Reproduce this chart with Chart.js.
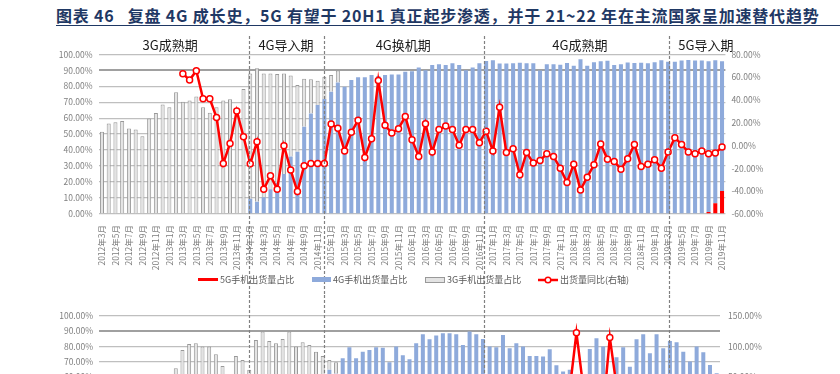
<!DOCTYPE html>
<html>
<head>
<meta charset="utf-8">
<script src="https://cdn.jsdelivr.net/npm/chart.js@4.4.1/dist/chart.umd.min.js"></script>
<style>
  html, body { margin: 0; padding: 0; background: #fff; }
  body { width: 840px; height: 374px; overflow: hidden; position: relative; font-family: 'Noto Sans CJK SC', 'Noto Sans', sans-serif; }
  #title { position: absolute; left: 56px; top: 3px; font-size: 16px; font-weight: bold; color: #1f3864; white-space: nowrap; letter-spacing: 0.8px; }
  #rule { position: absolute; left: 56px; top: 25px; width: 784px; border-top: 1.5px solid #1f3864; }
  canvas { position: absolute; left: 0; }
  #topChart { top: 30px; }
  #bottomChart { top: 295px; }
  .lg { position: absolute; top: 273px; font-size: 9px; color: #595959; white-space: nowrap; line-height: 14px; }
  .sw { display: inline-block; vertical-align: middle; margin-right: 2px; position: relative; top: -1px; }
</style>
</head>
<body>
<div id="title">图表 46&nbsp;&nbsp;&nbsp;复盘 4G 成长史，5G 有望于 20H1 真正起步渗透，并于 21~22 年在主流国家呈加速替代趋势</div>
<div id="rule"></div>
<canvas id="topChart" width="840" height="265"></canvas>
<canvas id="bottomChart" width="840" height="260"></canvas>
<div class="lg" style="left:198px"><span class="sw" style="width:20px;height:3px;background:#ff0000"></span>5G手机出货量占比</div>
<div class="lg" style="left:312px"><span class="sw" style="width:19px;height:5px;background:#8eaadb"></span>4G手机出货量占比</div>
<div class="lg" style="left:425px"><span class="sw" style="width:18px;height:4px;background:#e3e3e3;border:1px solid #999"></span>3G手机出货量占比</div>
<div class="lg" style="left:538px"><svg class="sw" width="20" height="8"><line x1="0" y1="4" x2="20" y2="4" stroke="#ff0000" stroke-width="2.5"/><circle cx="10" cy="4" r="2.8" fill="#fff" stroke="#ff0000" stroke-width="1.5"/></svg>出货量同比(右轴)</div>
<script>
// --- 类目：2012年3月 ~ 2019年11月 ---
const months = [];
for (let y = 2012, m = 3; y < 2019 || (y === 2019 && m <= 11);) {
    months.push(y + '年' + m + '月');
    m++;
    if (m > 12) { m = 1; y++; }
}

// --- 上图：中国手机出货结构（%）---
const share3G = [
    51.5, 56.7, 57.5, 58.2, 53.6, 52.9, 48.7, 59.8, 63.2, 68.6,
    66.9, 76.2, 70.3, 71.1, 73.6, 66.9, 63.4, 66.9, 71.1, 71.8,
    64, 78.2, 78.4, 83.6, 77.5, 72.5, 68.2, 63, 50.8, 41.7,
    30.1, 21.3, 15.3, 14, 10.4, 7.4
].concat(Array(57).fill(null));

const share4G = Array(22).fill(null).concat([
    9.6, 7.6, 10.5, 15.5, 19.5, 25, 36, 39,
    54.6, 63, 68.2, 72, 76.6, 82.4, 79.7, 83.9, 85.6, 85.6,
    87, 86.4, 87, 87.4, 87.4, 89.1, 89.4, 91.8, 90, 93.3,
    93.8, 93.3, 94.4, 93.3, 90, 91.8, 94.4, 95.8, 96.3, 94.2,
    94.3, 94.4, 94.7, 94.4, 94.4, 89.8, 93.8, 93.8, 93.4, 94.6,
    92.9, 96.9, 92.9, 95, 95.6, 96, 93.3, 93.8, 94.9, 94.6,
    94.7, 94.4, 95, 96.2, 95.4, 95.4, 96.1, 96.4, 96.1, 95.6,
    94.3, 89.4, 81.2
]);

const share5G = Array(89).fill(null).concat([0.5, 1.3, 6.8, 14.4]);

const yoyTop = Array(12).fill(null).concat([
    63.0, 57.4, 65.6, 41, 41, 24.5, -15.7, 1.9,
    30.4, 7.8, -16, 3.4, -38.3, -26.5, -38.3, -0.1, -21.5, -40.3,
    -17.7, -15.7, -15.7, -15.7, 19, 15.1, -4.8, 11.6, 22.2, -10.4,
    6, 57.1, 17.8, 11, 14.8, 25.4, 5.2, -9.5, 19.2, -5.7,
    14, 17.2, 14, 0.2, 14, 14, 2.5, 12.5, -4.8, 33.6,
    -6, -2.8, -25.7, -6, -15.4, -13, -7.2, -9.5, -20, -32.4,
    -16.3, -38.9, -27.7, -16.9, 1.3, -11.9, -13.9, -20.7, -11.6, 1.0,
    -18.3, -16.3, -12.5, -19.8, -5.7, 6.9, 1.0, -5.7, -7.2, -4.8,
    -7.2, -6.6, -1.3
]);

// --- 下图（只露出上半部分）---
const bottom3G = [
    45, 48, 50, 47, 52, 50, 49, 53, 55, 52,
    56, 65.7, 77.6, 81.5, 82, 79.8, 79.8, 74.8, 67.2, 52,
    73.7, 71.1, 64.6, 84.1, 89.6, 83.5, 82, 84.8, 89.6, 79.8,
    82.6, 80.9, 76.5, 73.7, 6.5, 7.6
].concat(Array(57).fill(null));

const bottom4G = Array(34).fill(null).concat([
    64.6, 62, 72.2, 79.3, 72.2, 76.5,
    77.6, 79.3, 79.1, 69.6, 79.8, 74.1, 71.5, 82, 87.8, 84.6,
    87, 88.5, 88.5, 87.8, 80.9, 89.6, 87.8, 84.8, 79.8, 79.3,
    87.4, 78.7, 82, 79.8, 73.7, 73.7, 73.3, 78, 67.6, 63.5,
    64.6, 55, 50, 78.3, 85.2, 79.8, 56, 72.8, 79.3, 66.7,
    84.6, 87.8, 75.4, 87.8, 78.7, 83.5, 82.6, 76.5, 70, 79.8,
    76.1, 67.8, 62.4
]);

const yoyBottom = Array(12).fill(null).concat([
    30, 25, 35, 20, 18, 10, -5, 12,
    22, 8, -10, 15, -20, -8, -15, 5, -12, -25,
    -10, -5, -8, -2, 25, 18, 5, 15, 28, 0,
    10, 40, 20, 12, 18, 30, 8, -5, 22, 2,
    15, 20, 15, 5, 15, 15, 8, 16, 2, 35,
    0, 5, -15, 2, -8, -5, 0, -3, -10, -18,
    30, 122, 35, -12, -10, -5, 114.5, 35, -8, 5,
    -10, -8, -5, -12, 2, 12, 5, -2, -4, 0,
    -3, -2, 3
]);

// --- 阶段划分（以类目序号表示）---
const phaseNames = ['3G成熟期', '4G导入期', '4G换机期', '4G成熟期', '5G导入期'];
const phaseCenterIdx = [10.1, 27.3, 44.7, 70.9, 89.6];
const dividerIdx = [21.8, 32.9, 56.7, 84.1];

const FONT = "'Noto Sans CJK SC', 'Noto Sans', sans-serif";
const RED = '#ff0000';
const BLUE = '#8eaadb';
const GREY = '#e3e3e3';
const GREY_EDGE = '#999999';

function idxToX(scale, d) {
    const x0 = scale.getPixelForValue(0);
    const step = scale.getPixelForValue(1) - x0;
    return x0 + d * step;
}

function pct(v) { return Number(v).toFixed(2) + '%'; }

function gridColor(c) { return c.tick && c.tick.value === 90 ? '#a0a0a0' : '#bfbfbf'; }
function gridWidth(c) { return c.tick && c.tick.value === 90 ? 2 : 1.3; }

const tickFont = { family: FONT, size: 8.5 };

function xAxis(height) {
    return {
        stacked: true,
        offset: true,
        grid: { display: false },
        border: { display: false },
        ticks: {
            autoSkip: false, minRotation: 90, maxRotation: 90, padding: 3,
            color: '#7f7f7f', font: tickFont,
            callback: function (v, i) { return i % 2 === 0 ? this.getLabelForValue(v) : ''; }
        },
        afterFit: s => { s.height = height; }
    };
}

function lineSet(data) {
    return {
        type: 'line', data: data, yAxisID: 'y1', order: 0,
        borderColor: RED, borderWidth: 2.5, tension: 0,
        pointRadius: 3, pointHoverRadius: 3,
        pointBackgroundColor: '#fff', pointBorderColor: RED, pointBorderWidth: 1.5
    };
}

function barSet(data, color, edge) {
    return {
        type: 'bar', data: data, yAxisID: 'y', stack: 's', order: 1,
        backgroundColor: color, borderColor: edge || color, borderWidth: edge ? 1 : 0,
        barPercentage: 0.6, categoryPercentage: 1
    };
}

// 虚线与阶段标题
const topDecor = {
    id: 'topDecor',
    afterDatasetsDraw(chart) {
        const ctx = chart.ctx;
        const xs = chart.scales.x;
        ctx.save();
        ctx.strokeStyle = '#808080';
        ctx.lineWidth = 1.2;
        ctx.setLineDash([3, 2]);
        dividerIdx.forEach(d => {
            const x = Math.round(idxToX(xs, d)) + 0.5;
            ctx.beginPath();
            ctx.moveTo(x, 6);
            ctx.lineTo(x, chart.height);
            ctx.stroke();
        });
        ctx.setLineDash([]);
        ctx.fillStyle = '#1a1a1a';
        ctx.font = '13px ' + FONT;
        ctx.textAlign = 'center';
        ctx.textBaseline = 'middle';
        phaseNames.forEach((n, i) => ctx.fillText(n, idxToX(xs, phaseCenterIdx[i]), 15));
        ctx.restore();
    }
};

const topChart = new Chart(document.getElementById('topChart'), {
    data: {
        labels: months,
        datasets: [
            lineSet(yoyTop),
            barSet(share5G, RED),
            barSet(share4G, BLUE),
            barSet(share3G, GREY, GREY_EDGE)
        ]
    },
    options: {
        responsive: false,
        animation: false,
        devicePixelRatio: 1,
        layout: { padding: { top: 24.3, left: 0, right: 0, bottom: 0 } },
        plugins: { legend: { display: false }, tooltip: { enabled: false } },
        scales: {
            x: xAxis(81),
            y: {
                stacked: true, min: 0, max: 100,
                border: { display: false },
                grid: { color: gridColor, lineWidth: gridWidth, drawTicks: false },
                ticks: { stepSize: 10, padding: 6, color: '#7f7f7f', font: tickFont, callback: pct },
                afterFit: s => { s.width = 98.6; }
            },
            y1: {
                position: 'right', min: -60, max: 80,
                border: { display: false },
                grid: { display: false, drawTicks: false },
                ticks: { stepSize: 20, padding: 6, color: '#7f7f7f', font: tickFont, callback: pct },
                afterFit: s => { s.width = 840 - 725.4; }
            }
        }
    },
    plugins: [topDecor]
});

const bottomDecor = {
    id: 'bottomDecor',
    afterDatasetsDraw(chart) {
        const ctx = chart.ctx;
        const xs = topChart.scales.x;
        ctx.save();
        ctx.strokeStyle = '#808080';
        ctx.lineWidth = 1.2;
        ctx.setLineDash([3, 2]);
        dividerIdx.forEach(d => {
            const x = Math.round(idxToX(xs, d)) + 0.5;
            ctx.beginPath();
            ctx.moveTo(x, 0);
            ctx.lineTo(x, chart.height);
            ctx.stroke();
        });
        ctx.restore();
    }
};

new Chart(document.getElementById('bottomChart'), {
    data: {
        labels: months,
        datasets: [
            lineSet(yoyBottom),
            barSet(bottom4G, BLUE),
            barSet(bottom3G, GREY, GREY_EDGE)
        ]
    },
    options: {
        responsive: false,
        animation: false,
        devicePixelRatio: 1,
        layout: { padding: { top: 20.7, left: 0, right: 0, bottom: 0 } },
        plugins: { legend: { display: false }, tooltip: { enabled: false } },
        scales: {
            x: xAxis(86.3),
            y: {
                stacked: true, min: 0, max: 100,
                border: { display: false },
                grid: { color: gridColor, lineWidth: gridWidth, drawTicks: false },
                ticks: { stepSize: 10, padding: 6, color: '#7f7f7f', font: tickFont, callback: pct },
                afterFit: s => { s.width = 99; }
            },
            y1: {
                position: 'right', min: -100, max: 150,
                border: { display: false },
                grid: { display: false, drawTicks: false },
                ticks: { stepSize: 50, padding: 8, color: '#7f7f7f', font: tickFont, callback: pct },
                afterFit: s => { s.width = 120; }
            }
        }
    },
    plugins: [bottomDecor]
});
</script>
</body>
</html>
